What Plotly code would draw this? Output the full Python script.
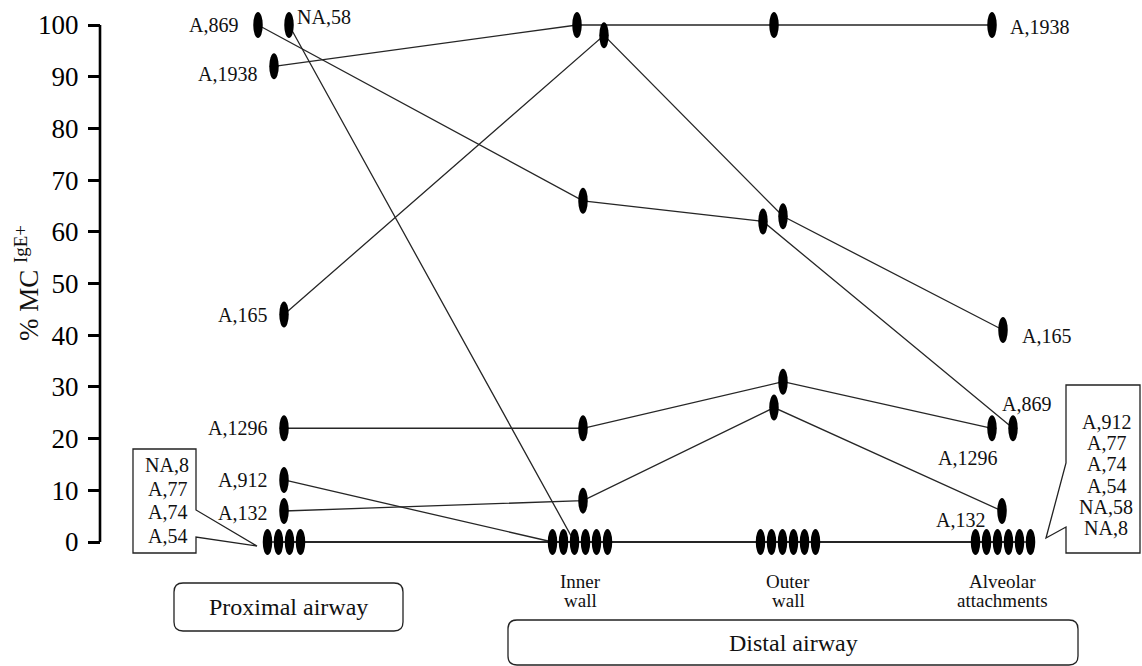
import plotly.graph_objects as go

# ---------------------------------------------------------------------------
# Data: % of mast cells that are IgE+ in each airway compartment, per subject
# ---------------------------------------------------------------------------
patients = ["A,1938", "A,869", "NA,58", "A,165", "A,1296", "A,912", "A,132",
            "NA,8", "A,77", "A,74", "A,54"]

proximal = [92, 100, 100, 44, 22, 12, 6, 0, 0, 0, 0]
inner_wall = [100, 66, 0, 98, 22, 0, 8, 0, 0, 0, 0]
outer_wall = [100, 62, 0, 63, 31, 0, 26, 0, 0, 0, 0]
alveolar = [100, 22, 0, 41, 22, 0, 6, 0, 0, 0, 0]

compartments = ["Proximal", "Inner wall", "Outer wall", "Alveolar attachments"]
y_ticks = [0, 10, 20, 30, 40, 50, 60, 70, 80, 90, 100]

# ---------------------------------------------------------------------------
# Layout geometry (pixels)
# ---------------------------------------------------------------------------
W, H = 1142, 666
Y_TOP_PX, Y_ZERO_PX = 25, 542          # where 100 % and 0 % sit
PPU = (Y_ZERO_PX - Y_TOP_PX) / 100.0
Y_MAX = 100 + Y_TOP_PX / PPU
Y_MIN = -(H - Y_ZERO_PX) / PPU
AXIS_X = 100

col_x = [284, 580, 780, 998]           # column centres on the x axis
# small horizontal nudges so overlapping subjects stay visible
nudge = [
    {"A,1938": -10, "A,869": -26, "NA,58": 5},
    {"A,1938": -3, "A,869": 3, "A,165": 24, "A,1296": 3, "A,132": 3},
    {"A,1938": -6, "A,869": -17, "A,165": 3, "A,1296": 3, "A,132": -6},
    {"A,1938": -6, "A,1296": -6, "A,869": 15, "A,165": 5, "A,132": 4},
]
zero_center = [0, 0, 8, 5]
zero_order = ["A,912", "NA,8", "NA,58", "A,77", "A,74", "A,54"]
ZERO_STEP = 11
ELL_W, ELL_H = 9.5, 26

FONT = "Liberation Serif"
INK = "#111111"

columns = [proximal, inner_wall, outer_wall, alveolar]

# x position of each subject in each column
xpos = {p: [0.0] * 4 for p in patients}
for c, vals in enumerate(columns):
    zeros = [p for p in zero_order if vals[patients.index(p)] == 0]
    n = len(zeros)
    for k, p in enumerate(zeros):
        xpos[p][c] = col_x[c] + zero_center[c] + (k - (n - 1) / 2) * ZERO_STEP
    for i, p in enumerate(patients):
        if vals[i] != 0:
            xpos[p][c] = col_x[c] + nudge[c].get(p, 0)


def px(x, y):
    """pixel -> paper coordinates"""
    return x / W, 1 - y / H


fig = go.Figure()

# connecting lines, one per subject
for i, p in enumerate(patients):
    fig.add_trace(go.Scatter(
        x=xpos[p], y=[col[i] for col in columns], mode="lines",
        line=dict(color="#262626", width=1.3), name=p, hoverinfo="skip",
        showlegend=False))

shapes = []
# elliptical markers
for i, p in enumerate(patients):
    for c, col in enumerate(columns):
        shapes.append(dict(
            type="circle", xref="x", yref="y",
            xsizemode="pixel", ysizemode="pixel",
            xanchor=xpos[p][c], yanchor=col[i],
            x0=-ELL_W / 2, x1=ELL_W / 2, y0=-ELL_H / 2, y1=ELL_H / 2,
            fillcolor="black", line=dict(width=0), layer="above"))

# y axis line between 0 and 100
shapes.append(dict(type="line", xref="x", yref="y", x0=AXIS_X, x1=AXIS_X,
                   y0=0, y1=100, line=dict(color="black", width=2.6)))


def path_from(points, close=True):
    d = ""
    for k, (x, y) in enumerate(points):
        u, v = px(x, y)
        d += ("M" if k == 0 else "L") + f"{u:.5f},{v:.5f} "
    return d + ("Z" if close else "")


def rounded_box(x0, y0, x1, y1, r):
    def P(x, y):
        u, v = px(x, y)
        return f"{u:.5f},{v:.5f}"
    return (f"M{P(x0 + r, y0)} L{P(x1 - r, y0)} Q{P(x1, y0)} {P(x1, y0 + r)} "
            f"L{P(x1, y1 - r)} Q{P(x1, y1)} {P(x1 - r, y1)} "
            f"L{P(x0 + r, y1)} Q{P(x0, y1)} {P(x0, y1 - r)} "
            f"L{P(x0, y0 + r)} Q{P(x0, y0)} {P(x0 + r, y0)} Z")


box_line = dict(color="#222222", width=1.3)
# callout for the proximal zeros
shapes.append(dict(type="path", xref="paper", yref="paper", line=box_line,
                   fillcolor="rgba(0,0,0,0)",
                   path=path_from([(133, 449), (196, 449), (196, 510), (257, 546),
                                   (196, 537), (196, 553), (133, 553)])))
# callout for the alveolar zeros
shapes.append(dict(type="path", xref="paper", yref="paper", line=box_line,
                   fillcolor="rgba(0,0,0,0)",
                   path=path_from([(1066, 385), (1140, 385), (1140, 553), (1066, 553),
                                   (1066, 527), (1046, 538), (1066, 463)])))
# region boxes
shapes.append(dict(type="path", xref="paper", yref="paper", line=box_line,
                   path=rounded_box(174, 583, 403, 631, 9)))
shapes.append(dict(type="path", xref="paper", yref="paper", line=box_line,
                   path=rounded_box(508, 620, 1078, 665, 9)))

annotations = []


def note(text, x, y, size=20, xanchor="center", yanchor="middle", **kw):
    u, v = px(x, y)
    annotations.append(dict(text=text, x=u, y=v, xref="paper", yref="paper",
                            showarrow=False, xanchor=xanchor, yanchor=yanchor,
                            font=dict(family=FONT, size=size, color=INK), **kw))


# subject labels beside their points
point_labels = [
    ("A,869", 0, "right", -18, 0),
    ("NA,58", 0, "left", 6, 8),
    ("A,1938", 0, "right", -15, -8),
    ("A,165", 0, "right", -15, 0),
    ("A,1296", 0, "right", -15, 0),
    ("A,912", 0, "right", -15, 0),
    ("A,132", 0, "right", -15, -2),
    ("A,1938", 3, "left", 16, -2),
    ("A,165", 3, "left", 17, -6),
    ("A,869", 3, "center", 13, 24),
    ("A,1296", 3, "center", -25, -30),
    ("A,132", 3, "right", -15, -9),
]
for p, c, anchor, dx, dy in point_labels:
    annotations.append(dict(
        text=p, x=xpos[p][c], y=columns[c][patients.index(p)], xref="x", yref="y",
        showarrow=False, xanchor=anchor, yanchor="middle", xshift=dx, yshift=dy,
        font=dict(family=FONT, size=20, color=INK)))

# callout contents
for k, t in enumerate(["NA,8", "A,77", "A,74", "A,54"]):
    note(t, 167, 465 + k * 23.7)
for k, t in enumerate(["A,912", "A,77", "A,74", "A,54", "NA,58", "NA,8"]):
    note(t, 1106, 422 + k * 21.2)

# compartment labels under the distal columns
for c, (l1, l2) in zip([1, 2, 3], [("Inner", "wall"), ("Outer", "wall"),
                                   ("Alveolar", "attachments")]):
    cx = col_x[c] + zero_center[c]
    note(l1, cx, 581, size=19)
    note(l2, cx, 600, size=19)

note("Proximal airway", 288.5, 607, size=24)
note("Distal airway", 793, 643, size=24)

# y axis title
note("% MC <sup>IgE+</sup>", 27, 283, size=27, textangle=-90)

fig.update_layout(
    width=W, height=H,
    margin=dict(l=0, r=0, t=0, b=0, pad=0),
    paper_bgcolor="white", plot_bgcolor="white",
    showlegend=False,
    font=dict(family=FONT, color=INK),
    shapes=shapes, annotations=annotations,
    xaxis=dict(range=[0, W], visible=False, fixedrange=True),
    yaxis=dict(range=[Y_MIN, Y_MAX], anchor="free", position=AXIS_X / W,
               side="left", showline=False, showgrid=False, zeroline=False,
               ticks="outside", ticklen=12, tickwidth=2.6, tickcolor="black",
               tickvals=y_ticks, ticktext=[str(v) for v in y_ticks],
               ticklabelstandoff=4,
               tickfont=dict(family=FONT, size=27, color="black"),
               automargin=False, fixedrange=True),
)

fig.write_html("out.html")
